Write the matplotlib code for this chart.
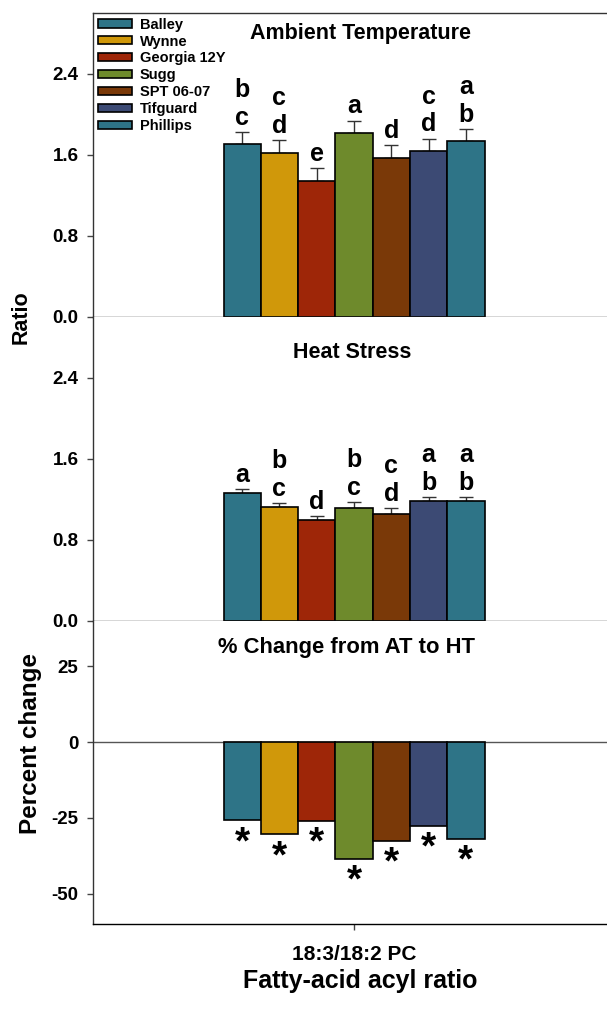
import numpy as np
import matplotlib.pyplot as plt

plt.rcParams['font.family'] = ['Liberation Sans', 'DejaVu Sans']
plt.rcParams['font.weight'] = 'bold'
plt.rcParams['axes.unicode_minus'] = False

# cultivars and values
cultivars = ['Balley', 'Wynne', 'Georgia 12Y', 'Sugg', 'SPT 06-07', 'Tifguard', 'Phillips']
colors = ['#2E7487', '#D0980A', '#9E2608', '#6E8A2C', '#7A3908', '#3C4A74', '#2E7487']

at_mean = [1.705, 1.617, 1.343, 1.814, 1.570, 1.640, 1.732]
at_err = [0.119, 0.128, 0.126, 0.125, 0.126, 0.121, 0.121]
at_letters = ['b\nc', 'c\nd', 'e', 'a', 'd', 'c\nd', 'a\nb']

ht_mean = [1.264, 1.129, 0.998, 1.119, 1.060, 1.185, 1.182]
ht_err = [0.036, 0.033, 0.036, 0.053, 0.053, 0.036, 0.039]
ht_letters = ['a', 'b\nc', 'd', 'b\nc', 'c\nd', 'a\nb', 'a\nb']

pct_change = [-25.8, -30.4, -25.9, -38.4, -32.5, -27.7, -31.8]

group_label = '18:3/18:2 PC'

n = len(cultivars)
width = 1.0 / n
xpos = (np.arange(n) - (n - 1) / 2) * width

fig = plt.figure(figsize=(6.07, 10.11), dpi=100)
left, axw = 93 / 607, 522 / 607
ax1 = fig.add_axes([left, 0.6865, axw, 0.3006])
ax2 = fig.add_axes([left, 0.3858, axw, 0.3007])
ax3 = fig.add_axes([left, 0.0861, axw, 0.2997])


def style_axis(ax):
    for s in ['left', 'bottom', 'top']:
        ax.spines[s].set_color('#333333')
        ax.spines[s].set_linewidth(1.0)
    ax.spines['right'].set_visible(False)
    ax.set_xlim(-1, 1)
    ax.set_xticks([0])
    ax.tick_params(axis='both', direction='out', length=4.5, width=1,
                   color='#444444', labelsize=13.5)
    ax.tick_params(axis='y', pad=6)
    for lab in ax.get_yticklabels():
        lab.set_fontweight('bold')


def ratio_panel(ax, means, errs, letters, title, tx, ty, legend=False):
    bars = ax.bar(xpos, means, width, color=colors, edgecolor='black',
                  linewidth=1.2, zorder=2)
    ax.errorbar(xpos, means, yerr=[np.zeros(n), errs], fmt='none',
                ecolor='#333333', elinewidth=1, capsize=5, capthick=1, zorder=1)
    for x, m, e, lt in zip(xpos, means, errs, letters):
        ax.annotate(lt, (x, m + e), xytext=(0, 1.5), textcoords='offset points',
                    ha='center', va='bottom', fontsize=18, fontweight='bold',
                    linespacing=1.2)
    ax.set_ylim(0, 3.0)
    ax.set_yticks([0.0, 0.8, 1.6, 2.4])
    ax.set_yticklabels(['0.0', '0.8', '1.6', '2.4'])
    ax.text(tx, ty, title, transform=ax.transAxes, ha='center', va='baseline',
            fontsize=15.5, fontweight='bold')
    style_axis(ax)
    ax.set_xticklabels([])
    if legend:
        for b, name in zip(bars, cultivars):
            b.set_label(name)
        ax.legend(loc='upper left', bbox_to_anchor=(0.0096, 0.985), frameon=False,
                  borderpad=0, borderaxespad=0, handlelength=2.3, handleheight=0.5,
                  handletextpad=0.55, labelspacing=0.2,
                  prop={'size': 10.5, 'weight': 'bold'})


ratio_panel(ax1, at_mean, at_err, at_letters, 'Ambient Temperature', 0.513, 0.914, legend=True)
ratio_panel(ax2, ht_mean, ht_err, ht_letters, 'Heat Stress', 0.497, 0.865)
ax2.spines['top'].set_visible(False)

# percent change panel
ax3.bar(xpos, pct_change, width, color=colors, edgecolor='black', linewidth=1.2, zorder=2)
ax3.axhline(0, color='#555555', linewidth=1, zorder=1)
for x, v in zip(xpos, pct_change):
    ax3.annotate('*', (x, v), xytext=(0, -3.5), textcoords='offset points',
                 ha='center', va='top', fontsize=28, fontweight='bold')
ax3.set_ylim(-60, 40)
ax3.set_yticks([-50, -25, 0, 25])
ax3.text(0.485, 0.894, '% Change from AT to HT', transform=ax3.transAxes,
         ha='center', va='baseline', fontsize=15.8, fontweight='bold')
style_axis(ax3)
ax3.spines['top'].set_visible(False)
ax3.spines['bottom'].set_color('black')
ax3.set_xticklabels([group_label], fontsize=15, fontweight='bold')
ax3.tick_params(axis='x', pad=11)

fig.text(0.0346, 0.686, 'Ratio', rotation=90, ha='center', va='center',
         fontsize=15.5, fontweight='bold')
fig.text(0.051, 0.265, 'Percent change', rotation=90, ha='center', va='center',
         fontsize=17.5, fontweight='bold')
fig.text(0.593, 0.0228, 'Fatty-acid acyl ratio', ha='center', va='baseline',
         fontsize=18, fontweight='bold')

fig.savefig('out.png', dpi=100)
